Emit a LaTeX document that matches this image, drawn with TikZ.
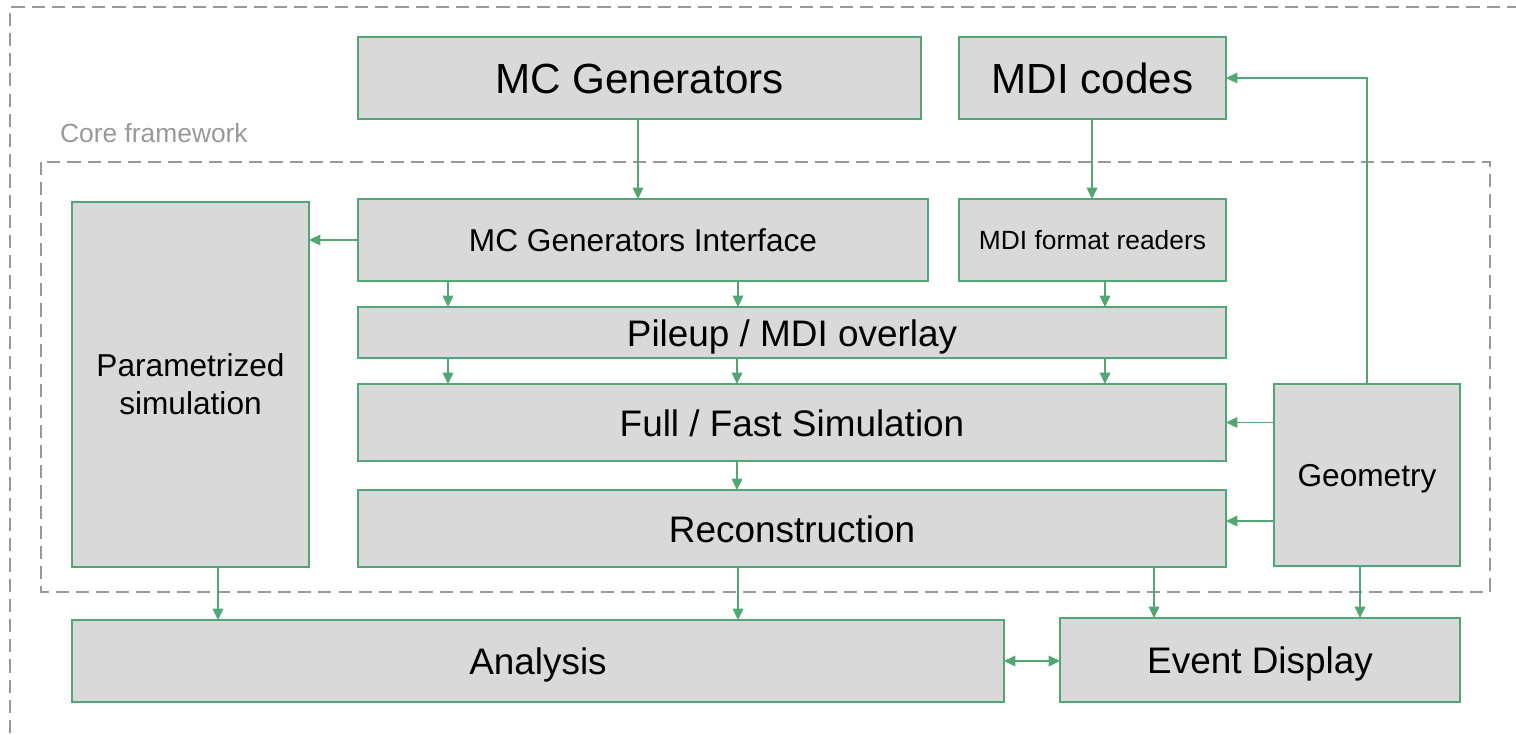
\documentclass[tikz,border=0pt]{standalone}
\usepackage{fontspec}
\setmainfont{Liberation Sans}
\usetikzlibrary{arrows.meta}
\definecolor{boxgreen}{RGB}{82,166,116}
\definecolor{boxgray}{RGB}{217,217,217}
\definecolor{framegray}{RGB}{153,153,153}
\tikzset{
	box/.style={draw=boxgreen, line width=1.1pt, fill=boxgray, anchor=north west, inner sep=0pt, outer sep=0pt, align=center},
	bigtext/.style={font=\fontsize{24}{28}\selectfont, text height=22.8pt, text depth=4.8pt},
	midtext/.style={font=\fontsize{21}{25}\selectfont, text height=20pt, text depth=4.2pt},
	smalltext/.style={font=\fontsize{18}{21.5}\selectfont, text height=17.1pt, text depth=3.6pt},
	tinytext/.style={font=\fontsize{15}{18}\selectfont, text height=14.3pt, text depth=3pt},
	arr/.style={draw=boxgreen, line width=1.1pt, -{Triangle[length=6.5pt,width=6pt]}},
	dualarr/.style={arr, {Triangle[length=6.5pt,width=6pt]}-{Triangle[length=6.5pt,width=6pt]}},
	frame/.style={draw=framegray, line width=1.1pt, dash pattern=on 7.5pt off 4pt}
}

\begin{document}
\begin{tikzpicture}
			%%%%% START %%%%%
			\useasboundingbox (0, 0) rectangle (30.32, -14.68);
			
			% dashed frames
			\draw[frame] (30.4, -0.14) -- (0.2, -0.14) -- (0.2, -14.8);
			\draw[frame] (0.82, -3.24) rectangle (29.8, -11.84);
			\node[anchor=west, text=framegray, font=\fontsize{15}{18}\selectfont] (core) at (1.08, -2.66) {Core framework};
			
			% boxes
			\node[box, bigtext, minimum width=11.26cm, minimum height=1.64cm] (mcgen) at (7.16, -0.74) {MC Generators};
			\node[box, bigtext, minimum width=5.34cm, minimum height=1.64cm] (mdicodes) at (19.18, -0.74) {MDI codes};
			
			\node[box, font=\fontsize{18}{21.5}\selectfont, minimum width=4.74cm, minimum height=7.30cm] (param) at (1.44, -4.04) {Parametrized\\simulation};
			\node[box, smalltext, minimum width=11.40cm, minimum height=1.64cm] (mcgi) at (7.16, -3.98) {MC Generators Interface};
			\node[box, tinytext, minimum width=5.34cm, minimum height=1.64cm] (mdiread) at (19.18, -3.98) {MDI format readers};
			
			\node[box, midtext, minimum width=17.36cm, minimum height=1.02cm] (pileup) at (7.16, -6.14) {Pileup / MDI overlay};
			\node[box, midtext, minimum width=17.36cm, minimum height=1.54cm] (fullsim) at (7.16, -7.68) {Full / Fast Simulation};
			\node[box, midtext, minimum width=17.36cm, minimum height=1.54cm] (reco) at (7.16, -9.80) {Reconstruction};
			\node[box, smalltext, minimum width=3.72cm, minimum height=3.64cm] (geom) at (25.48, -7.68) {Geometry};
			
			\node[box, midtext, minimum width=18.64cm, minimum height=1.64cm] (ana) at (1.44, -12.40) {Analysis};
			\node[box, midtext, minimum width=8.00cm, minimum height=1.68cm] (evd) at (21.20, -12.36) {Event Display};
			
			% arrows
			\draw[arr] (12.76,0 |- mcgen.south) -- (12.76,0 |- mcgi.north);
			\draw[arr] (21.84,0 |- mdicodes.south) -- (21.84,0 |- mdiread.north);
			\draw[arr] (geom.north) |- (mdicodes.east);
			\draw[arr] (mcgi.west) -- (mcgi.west -| param.east);
			
			\draw[arr] (8.96,0 |- mcgi.south) -- (8.96,0 |- pileup.north);
			\draw[arr] (14.76,0 |- mcgi.south) -- (14.76,0 |- pileup.north);
			\draw[arr] (22.1,0 |- mdiread.south) -- (22.1,0 |- pileup.north);
			
			\draw[arr] (8.96,0 |- pileup.south) -- (8.96,0 |- fullsim.north);
			\draw[arr] (14.74,0 |- pileup.south) -- (14.74,0 |- fullsim.north);
			\draw[arr] (22.1,0 |- pileup.south) -- (22.1,0 |- fullsim.north);
			
			\draw[arr] (14.74,0 |- fullsim.south) -- (14.74,0 |- reco.north);
			\draw[arr] (fullsim.east -| geom.west) -- (fullsim.east);
			\draw[arr] (geom.west |- 0,-10.42) -- (reco.east |- 0,-10.42);
			
			\draw[arr] (4.36,0 |- param.south) -- (4.36,0 |- ana.north);
			\draw[arr] (14.76,0 |- reco.south) -- (14.76,0 |- ana.north);
			\draw[arr] (23.08,0 |- reco.south) -- (23.08,0 |- evd.north);
			\draw[arr] (27.2,0 |- geom.south) -- (27.2,0 |- evd.north);
			\draw[dualarr] (ana.east) -- (ana.east -| evd.west);
			
			%%%%% END %%%%%
\end{tikzpicture}
\end{document}
